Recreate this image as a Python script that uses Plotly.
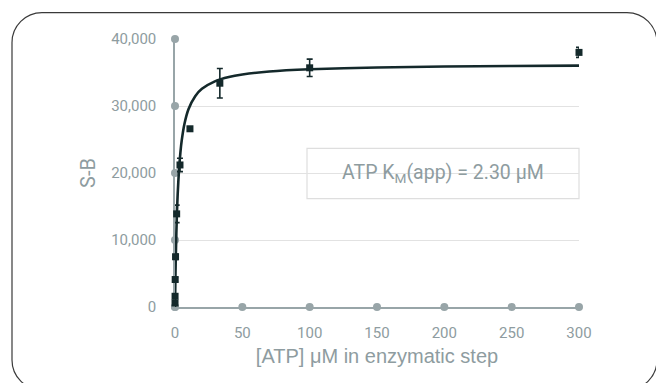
import plotly.graph_objects as go

# ---- data ----
ATP_UM = [300, 100, 33.3, 11.1, 3.7, 1.23, 0.41, 0.137, 0.046, 0.015]
SIGNAL = [38000, 35700, 33400, 26600, 21200, 13900, 7500, 4100, 1600, 600]
SIGNAL_ERR = [750, 1300, 2200, 250, 1000, 1300, 400, 300, 300, 200]

# fitted Michaelis-Menten curve
CURVE_X = [0, 0.25, 0.5, 1, 1.5, 2, 3, 4, 5, 7, 10, 15, 20, 30, 40, 50, 70, 100, 150, 200, 250, 300]
CURVE_Y = [0, 3560, 6480, 11000, 14330, 16880, 20550, 23050, 24860, 27320, 29510, 31470,
           32560, 33720, 34330, 34700, 35150, 35480, 35750, 35890, 35970, 36020]

X_TICKS = [0, 50, 100, 150, 200, 250, 300]
Y_TICKS = [0, 10000, 20000, 30000, 40000]
Y_TICK_TEXT = ["0", "10,000", "20,000", "30,000", "40,000"]

X_TITLE = "[ATP] μM in enzymatic step"
Y_TITLE = "S-B"
KM_LABEL = "ATP K<sub>M</sub>(app) = 2.30 μM"

# ---- styling ----
W, H = 656, 383
ML, MR, MT, MB = 175, 77, 38.5, 76
PW, PH = W - ML - MR, H - MT - MB
GREY_TXT = "#8e9ca0"
AXIS_GREY = "#98a5a8"
DARK = "#14292b"
FONT = "Roboto"
REG = "Liberation Sans, Roboto"

fig = go.Figure()

# axis tick dots
fig.add_trace(go.Scatter(x=[0] * len(Y_TICKS), y=Y_TICKS, mode="markers",
                         marker=dict(color=AXIS_GREY, size=8), cliponaxis=False,
                         hoverinfo="skip", showlegend=False))
fig.add_trace(go.Scatter(x=X_TICKS, y=[0] * len(X_TICKS), mode="markers",
                         marker=dict(color=AXIS_GREY, size=8), cliponaxis=False,
                         hoverinfo="skip", showlegend=False))

# fit curve
fig.add_trace(go.Scatter(x=CURVE_X, y=CURVE_Y, mode="lines",
                         line=dict(color=DARK, width=2.6, shape="spline", smoothing=0.6),
                         cliponaxis=False, showlegend=False))

# data points
fig.add_trace(go.Scatter(x=ATP_UM, y=SIGNAL, mode="markers",
                         marker=dict(symbol="square", color=DARK, size=7),
                         error_y=dict(type="data", array=SIGNAL_ERR, color=DARK,
                                      thickness=1.6, width=3),
                         cliponaxis=False, showlegend=False))


def px2paper(px, py):
    return (px - ML) / PW, (MT + PH - py) / PH


# rounded frame
def frame_path(x0, y0, x1, y1, r):
    k = 0.5523 * r
    def P(x, y):
        a, b = px2paper(x, y)
        return f"{a:.5f},{b:.5f}"
    d = f"M {P(x0 + r, y0)} L {P(x1 - r, y0)} "
    d += f"C {P(x1 - r + k, y0)} {P(x1, y0 + r - k)} {P(x1, y0 + r)} "
    d += f"L {P(x1, y1 - r)} "
    d += f"C {P(x1, y1 - r + k)} {P(x1 - r + k, y1)} {P(x1 - r, y1)} "
    d += f"L {P(x0 + r, y1)} "
    d += f"C {P(x0 + r - k, y1)} {P(x0, y1 - r + k)} {P(x0, y1 - r)} "
    d += f"L {P(x0, y0 + r)} "
    d += f"C {P(x0, y0 + r - k)} {P(x0 + r - k, y0)} {P(x0 + r, y0)} Z"
    return d


fig.add_shape(type="path", xref="paper", yref="paper",
              path=frame_path(12, 12, 657, 390, 30),
              line=dict(color="#3a3a3a", width=1.2), layer="above")

# Km box
bx0, by0 = px2paper(307, 148)
bx1, by1 = px2paper(579, 198.5)
fig.add_shape(type="rect", xref="paper", yref="paper", x0=bx0, x1=bx1, y0=by1, y1=by0,
              line=dict(color="#dedede", width=1.2), fillcolor="white", layer="between")
fig.add_annotation(xref="paper", yref="paper", x=(bx0 + bx1) / 2, y=(by0 + by1) / 2,
                   text=KM_LABEL, showarrow=False,
                   font=dict(family=FONT, size=19.5, color=GREY_TXT),
                   xanchor="center", yanchor="middle")

fig.update_layout(
    width=W, height=H,
    margin=dict(l=ML, r=MR, t=MT, b=MB, pad=0),
    paper_bgcolor="white", plot_bgcolor="white",
    font=dict(family=FONT, color=GREY_TXT),
    showlegend=False,
    xaxis=dict(range=[0, 300], tickvals=X_TICKS, showgrid=False, zeroline=False,
               showline=True, linecolor=AXIS_GREY, linewidth=1.5,
               ticks="outside", ticklen=11, tickcolor="rgba(0,0,0,0)",
               tickfont=dict(family=FONT, size=15, color=GREY_TXT),
               title=dict(text=X_TITLE, font=dict(family=REG, size=20, color=GREY_TXT), standoff=8),
               layer="below traces", fixedrange=True),
    yaxis=dict(range=[0, 40000], tickvals=Y_TICKS, ticktext=Y_TICK_TEXT,
               showgrid=True, gridcolor="#e2e2e2", gridwidth=1.2, zeroline=False,
               showline=True, linecolor=AXIS_GREY, linewidth=1.5,
               ticks="outside", ticklen=14, tickcolor="rgba(0,0,0,0)",
               tickfont=dict(family=FONT, size=15, color=GREY_TXT),
               title=dict(text=Y_TITLE, font=dict(family=FONT, size=20, color=GREY_TXT), standoff=10),
               layer="below traces", fixedrange=True),
)

fig.write_html("out.html", config={"displayModeBar": False})
